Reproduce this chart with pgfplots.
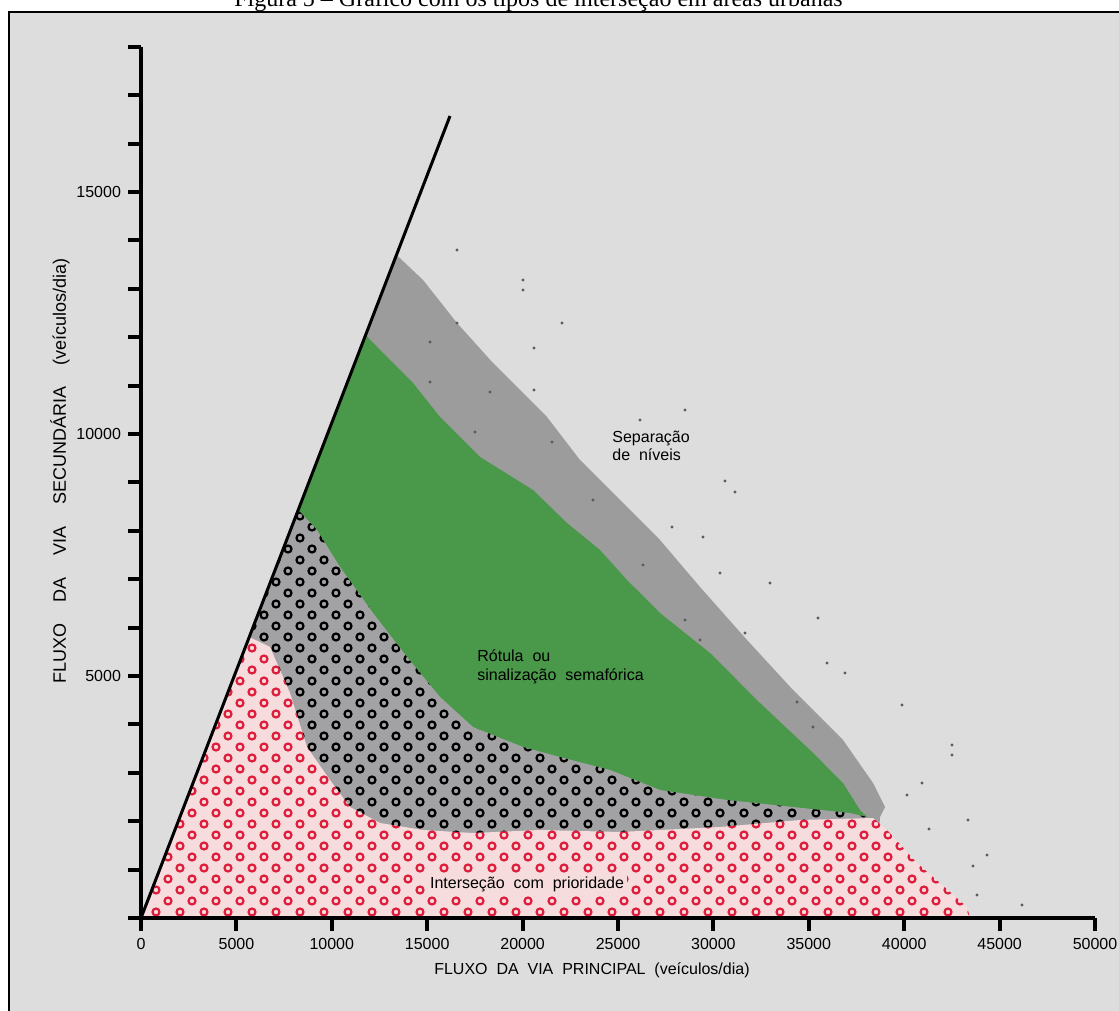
\documentclass[border=0pt]{standalone}
\usepackage{fontspec}
\setmainfont{Liberation Sans}
\newfontfamily\titlefont{Liberation Serif}
\usepackage{pgfplots}
\pgfplotsset{compat=1.18}
\usetikzlibrary{patterns}
\definecolor{bggray}{RGB}{221,221,221}
\definecolor{sepgray}{RGB}{156,156,156}
\definecolor{rotgreen}{RGB}{74,152,74}
\definecolor{dotgray}{RGB}{162,162,165}
\definecolor{pinkbg}{RGB}{246,220,220}
\definecolor{circred}{RGB}{222,30,60}
\pgfdeclarepatternformonly{hexcircles}{\pgfqpoint{-2.5pt}{-2.5pt}}{\pgfqpoint{8.5pt}{8pt}}{\pgfqpoint{12pt}{11pt}}{%
  \pgfsetlinewidth{1.1pt}%
  \pgfpathcircle{\pgfqpoint{0pt}{0pt}}{1.75pt}%
  \pgfpathcircle{\pgfqpoint{6pt}{5.5pt}}{1.75pt}%
  \pgfusepath{stroke}%
}
\begin{document}
\begin{tikzpicture}
\useasboundingbox (0,0) rectangle (559.5pt,505.5pt);
\clip (0,0) rectangle (559.5pt,505.5pt);
\node[anchor=base, font=\titlefont\fontsize{12}{14}\selectfont, inner sep=0pt] at (269.25pt,502pt) {Figura 5 – Gráfico com os tipos de interseção em áreas urbanas};
\draw[line width=1pt, fill=bggray] (4.5pt,-10pt) rectangle (570pt,499.5pt);
\begin{axis}[
  at={(70.5pt,46.5pt)}, anchor=south west,
  scale only axis, width=477pt, height=435.6pt,
  xmin=0, xmax=50000, ymin=0, ymax=18000,
  axis lines=left,
  axis line style={line width=2pt, -},
  axis on top,
  tick align=outside,
  major tick length=6.5pt, minor tick length=6.5pt,
  tick style={line width=2pt, black},
  xtick={0,5000,...,50000},
  ytick={5000,10000,15000},
  minor ytick={0,1000,...,18000},
  scaled ticks=false,
  /pgf/number format/assume math mode=true,
  /pgf/number format/1000 sep={},
  tick label style={font=\fontsize{8}{9.6}\selectfont},
  xlabel={FLUXO\ \ DA\ \ VIA\ \ PRINCIPAL\ \ (veículos/dia)},
  ylabel={FLUXO\hspace{1.2em}DA\hspace{1.2em}VIA\hspace{1.2em}SECUNDÁRIA\hspace{1.2em}(veículos/dia)},
  xlabel style={font=\fontsize{8}{9.6}\selectfont, at={(axis description cs:0.4727,0)}, anchor=center, yshift=-26pt},
  ylabel style={font=\fontsize{9}{10.8}\selectfont, at={(axis description cs:-0.0849,0.513)}, anchor=center},
]
% Separacao de niveis (gray)
\addplot[draw=none, fill=sepgray] coordinates {
(0,0) (13390,13700) (14780,13182) (16562,12293) (18449,11467) (21279,10351)
(23008,9463) (24581,8843) (27201,7810) (29298,6839) (31761,5744) (34172,4711)
(36792,3678) (38365,2789) (38994,2293) (38732,2087) (38400,0)} -- cycle;
% Rotula ou sinalizacao semaforica (green)
\addplot[draw=none, fill=rotgreen] coordinates {
(0,0) (11772,12045) (12683,11674) (14256,11054) (15671,10351) (17767,9525)
(20545,8843) (22327,8161) (24057,7603) (25472,6983) (27201,6302) (29822,5475)
(32442,4442) (35063,3471) (36792,2789) (37683,2231) (38050,2087) (38050,0)} -- cycle;
% black dotted region
\addplot[draw=none, fill=dotgray, postaction={pattern=hexcircles, pattern color=black}] coordinates {
(0,0) (8240,8430) (9224,8017) (10430,7252) (12159,6302) (13941,5393) (15671,4566)
(17400,3946) (20021,3533) (21960,3326) (24581,3058) (27201,2645) (30713,2438)
(34172,2293) (37159,2169) (38050,2087) (38050,0)} -- cycle;
% Intersecao com prioridade (red dotted)
\addplot[draw=none, fill=pinkbg, postaction={pattern=hexcircles, pattern color=circred}] coordinates {
(0,0) (5674,5806) (6761,5599) (7809,4649) (8700,3533) (9906,2851) (10954,2293)
(12526,1963) (14780,1818) (17400,1756) (20912,1818) (25105,1777) (30346,1880)
(34539,2025) (38365,2066) (39099,1818) (40671,1136) (41876,723) (43291,227)
(43449,0)} -- cycle;
% diagonal limit
\addplot[black, line width=1.5pt] coordinates {(0,0) (16195,16570)};
% scattered specks
\addplot[only marks, mark=*, mark size=0.55pt, color=black!65] coordinates {
(16562,13802) (20021,13182) (20021,12975) (16562,12293) (22065,12293) (15147,11901)
(20597,11777) (15147,11074) (18291,10868) (20597,10909) (17505,10041) (21541,9835)
(28512,10496) (26153,10289) (30608,9029) (31132,8802) (23690,8636) (27830,8079)
(29455,7872) (26310,7293) (30346,7128) (32966,6921) (28512,6157) (31656,5888)
(35482,6198) (29298,5744) (35954,5269) (36897,5062) (39884,4401) (34382,4463)
(35220,3946) (40147,2541) (42505,3574) (42505,3368) (40933,2789) (43344,2025)
(41300,1839) (44340,1302) (43606,1074) (43816,475) (46174,269)};
\node[anchor=north west, align=left, font=\fontsize{8}{9}\selectfont, inner sep=0pt] at (axis cs:24686,10062) {Separação\\de\ \ níveis};
\node[anchor=north west, align=left, font=\fontsize{8}{9.6}\selectfont, inner sep=0pt] at (axis cs:17610,5558) {Rótula\ \ ou\\sinalização\ \ semafórica};
\node[anchor=center, font=\fontsize{8}{9.6}\selectfont, fill=pinkbg, inner sep=1.5pt] at (axis cs:20231,702) {Interseção\ \ com\ \ prioridade};
\end{axis}
\end{tikzpicture}
\end{document}
